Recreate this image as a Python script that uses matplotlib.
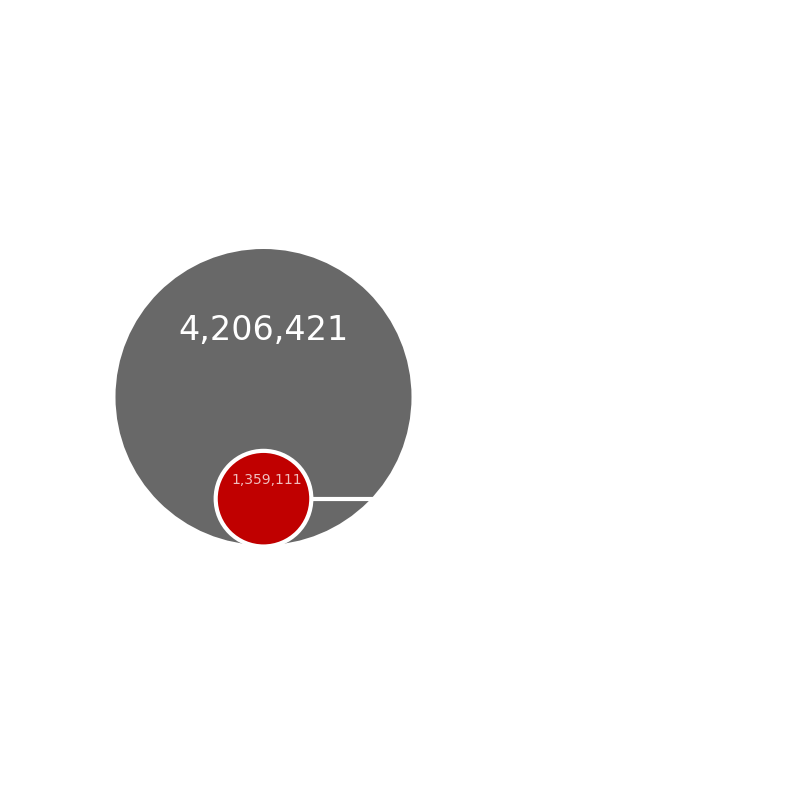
import matplotlib
matplotlib.use("Agg")
import matplotlib.pyplot as plt
from matplotlib.patches import Circle

# dane
names = ["Total", "Subset"]
values = [4206421, 1359111]
labels = ["4,206,421", "1,359,111"]

fig = plt.figure(figsize=(8, 8), dpi=100)
ax = fig.add_axes([0, 0, 1, 1])
ax.set_xlim(0, 800)
ax.set_ylim(800, 0)
ax.set_aspect("equal")
ax.axis("off")

R = 148
cx, cy = 263.5, 397
r_small = values[1] / values[0] * R          # promien proporcjonalny do wartosci
sy = cy + R - r_small + 1.5                    # male kolko przy dolnej krawedzi

ax.add_patch(Circle((cx, cy), R, color="#686868", lw=0))
ax.plot([cx + r_small, 430], [sy, sy], color="white", lw=3, zorder=2)
ax.add_patch(Circle((cx, sy), r_small, facecolor="#c00000", edgecolor="white", lw=3, zorder=3))

ax.text(cx, cy - 67, labels[0], color="white", fontsize=24, ha="center", va="center")
ax.text(cx + 3, sy - 19, labels[1], color="white", alpha=0.75, fontsize=10, ha="center", va="center", zorder=4)

# biale podpisy po prawej (niewidoczne na bialym tle)
ax.text(425, 305, names[0], color="white", fontsize=14, va="center")
ax.text(440, 495, names[1], color="white", fontsize=14, va="center")

fig.savefig("out.png", dpi=100, facecolor="white")
